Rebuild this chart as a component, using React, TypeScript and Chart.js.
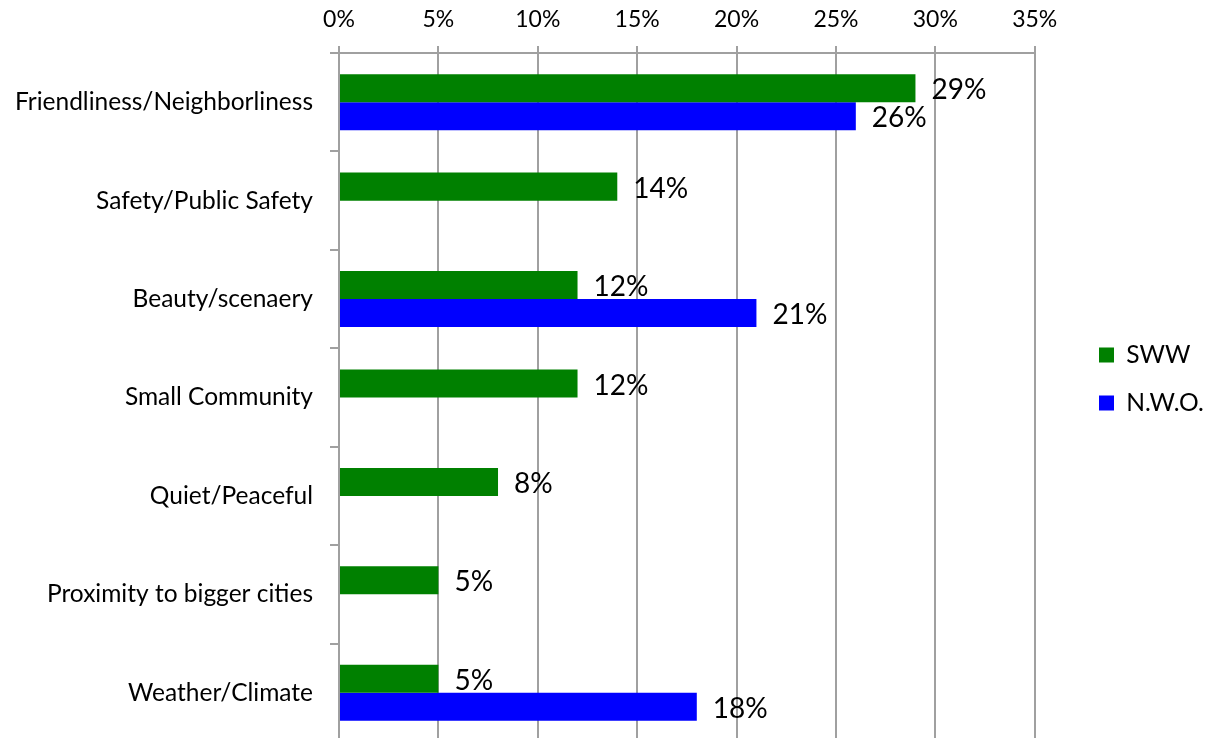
import React, { useEffect, useRef } from "react";
import { Chart, registerables } from "chart.js";

Chart.register(...registerables);

const categories = [
  "Friendliness/Neighborliness",
  "Safety/Public Safety",
  "Beauty/scenaery",
  "Small Community",
  "Quiet/Peaceful",
  "Proximity to bigger cities",
  "Weather/Climate",
];
const swwValues = [29, 14, 12, 12, 8, 5, 5];
const nwoValues: (number | null)[] = [26, null, 21, null, null, null, 18];
const xTicks = [0, 5, 10, 15, 20, 25, 30, 35];

const FONT = "Lato, 'Open Sans', sans-serif";
const LEGEND_PAD = 23.4;

const dataLabels = {
  id: "dataLabels",
  afterDatasetsDraw(chart: any) {
    const ctx = chart.ctx;
    ctx.save();
    ctx.font = `28px ${FONT}`;
    ctx.fillStyle = "#000";
    ctx.textAlign = "left";
    ctx.textBaseline = "middle";
    chart.data.datasets.forEach((ds: any, di: number) => {
      const meta = chart.getDatasetMeta(di);
      meta.data.forEach((el: any, i: number) => {
        const v = ds.data[i];
        if (v === null || v === undefined) return;
        ctx.fillText(`${v}%`, el.x + 16, el.y + 2);
      });
    });
    ctx.restore();
  },
};

const legendShift = {
  id: "legendShift",
  afterLayout(chart: any) {
    const l = chart.legend;
    if (!l) return;
    const dx = 1099 - LEGEND_PAD - l.left;
    const dy = 8;
    l.left += dx;
    l.right += dx;
    l.top += dy;
    l.bottom += dy;
  },
};

export default function App() {
  const ref = useRef<HTMLCanvasElement | null>(null);
  useEffect(() => {
    if (!ref.current) return;
    const chart = new Chart(ref.current, {
      type: "bar",
      data: {
        labels: categories,
        datasets: [
          {
            label: "SWW",
            data: swwValues,
            backgroundColor: "#008000",
            borderWidth: 0,
            categoryPercentage: 0.57,
            barPercentage: 1.0,
          },
          {
            label: "N.W.O.",
            data: nwoValues,
            backgroundColor: "#0000ff",
            borderWidth: 0,
            categoryPercentage: 0.57,
            barPercentage: 1.0,
          },
        ],
      },
      options: {
        indexAxis: "y",
        animation: false,
        responsive: false,
        maintainAspectRatio: false,
        layout: { padding: { left: 0, right: 39, top: 0, bottom: 4 } },
        scales: {
          x: {
            position: "top",
            min: 0,
            max: 35,
            afterBuildTicks: (scale: any) => {
              scale.ticks = xTicks.map((v) => ({ value: v }));
            },
            afterFit: (scale: any) => {
              scale.height = 53;
            },
            ticks: {
              callback: (v: any) => `${v}%`,
              color: "#000",
              font: { family: FONT, size: 23 },
              padding: 13,
              maxRotation: 0,
            },
            grid: {
              color: "#a0a0a0",
              lineWidth: 2,
              tickLength: 7,
              drawTicks: true,
            },
            border: { display: true, color: "#a0a0a0", width: 2 },
          },
          y: {
            afterFit: (scale: any) => {
              scale.width = 339;
              scale.paddingTop = 0;
              scale.paddingBottom = 0;
            },
            ticks: {
              color: "#000",
              font: { family: FONT, size: 24.5 },
              padding: 17,
            },
            grid: {
              drawOnChartArea: false,
              color: "#a0a0a0",
              lineWidth: 2,
              tickLength: 9,
              offset: true,
            },
            border: { display: true, color: "#a0a0a0", width: 2 },
          },
        },
        plugins: {
          legend: {
            display: true,
            position: "right",
            align: "center",
            labels: {
              boxWidth: 15,
              boxHeight: 15,
              padding: LEGEND_PAD,
              color: "#000",
              font: { family: FONT, size: 24.6 },
            },
          },
          tooltip: { enabled: false },
        },
      },
      plugins: [dataLabels, legendShift],
    });
    return () => chart.destroy();
  }, []);
  return (
    <div style={{ position: "fixed", left: 0, top: 0, width: 1212, height: 746, background: "#fff" }}>
      <canvas ref={ref} width={1212} height={746} style={{ display: "block" }} />
    </div>
  );
}
